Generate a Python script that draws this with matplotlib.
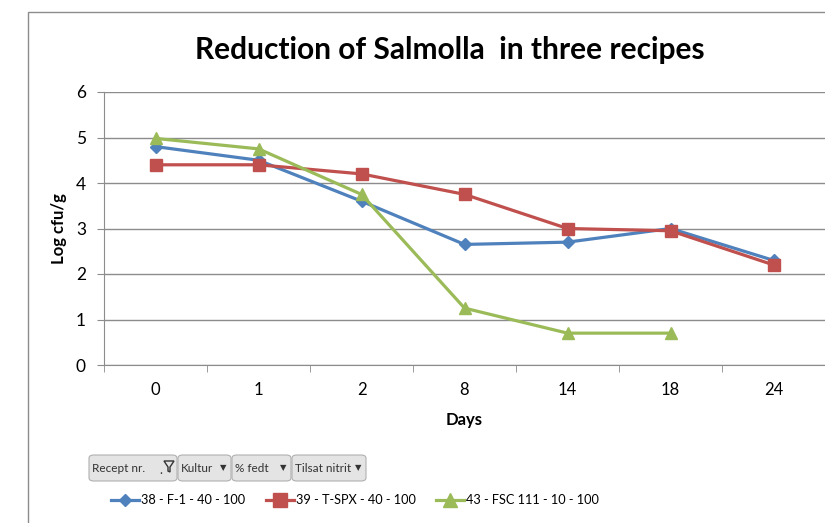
import matplotlib.pyplot as plt
import numpy as np
from matplotlib.patches import FancyBboxPatch, Rectangle, Polygon

plt.rcParams['font.family'] = ['Lato', 'DejaVu Sans']

days = ['0', '1', '2', '8', '14', '18', '24']
f1 = [4.8, 4.5, 3.6, 2.65, 2.7, 3.0, 2.3]
tspx = [4.4, 4.4, 4.2, 3.75, 3.0, 2.95, 2.2]
fsc = [4.98, 4.75, 3.75, 1.25, 0.7, 0.7, np.nan]
names = ['38 - F-1 - 40 - 100', '39 - T-SPX - 40 - 100', '43 - FSC 111 - 10 - 100']
buttons = ['Recept nr.', 'Kultur', '% fedt', 'Tilsat nitrit']

fig = plt.figure(figsize=(8.25, 5.23), dpi=100)
# chart frame
fig.patches.append(Rectangle((28 / 825, -0.01), 1.0, 1 - 12 / 523 + 0.01, transform=fig.transFigure,
                             fill=False, edgecolor='#8c8c8c', linewidth=1))

ax = fig.add_axes([104 / 825, 1 - 365 / 523, 1 - 104 / 825, (365 - 92) / 523])
x = np.arange(len(days))
ax.plot(x, f1, color='#4F81BD', lw=2.3, marker='D', ms=6, label=names[0])
ax.plot(x, tspx, color='#C0504D', lw=2.3, marker='s', ms=9, label=names[1])
ax.plot(x, fsc, color='#9BBB59', lw=2.3, marker='^', ms=9, label=names[2])

ax.set_xlim(-0.5, len(days) - 0.5)
ax.set_ylim(0, 6)
ax.set_yticks(range(7))
ax.set_xticks(x)
ax.set_xticklabels(days)
ax.set_xticks(np.arange(-0.5, len(days)), minor=True)
ax.tick_params(axis='x', which='major', length=0, pad=12, labelsize=12)
ax.tick_params(axis='x', which='minor', length=5, color='#8c8c8c')
ax.tick_params(axis='y', length=5, color='#8c8c8c', labelsize=12.5, pad=8)
ax.grid(axis='y', color='#8c8c8c', lw=1)
ax.set_axisbelow(True)
for s in ['top', 'right']:
    ax.spines[s].set_visible(False)
for s in ['left', 'bottom']:
    ax.spines[s].set_color('#8c8c8c')
ax.set_xlabel('Days', fontweight='bold', fontsize=12, labelpad=10)
ax.set_ylabel('Log cfu/g', fontweight='bold', fontsize=12, labelpad=6)
fig.text(450 / 825, 1 - 50 / 523, 'Reduction of Salmolla  in three recipes', ha='center', va='center',
         fontsize=21.5, fontweight='bold')

# pivot field buttons
edges = [89, 178, 232, 292, 367]
for i, b in enumerate(buttons):
    x0 = edges[i] / 825
    w = (edges[i + 1] - edges[i] - 1) / 825
    fig.patches.append(FancyBboxPatch((x0, 1 - 481 / 523), w, 26 / 523, transform=fig.transFigure,
                                      boxstyle='round,pad=0,rounding_size=0.006', facecolor='#e4e4e4',
                                      edgecolor='#b0b0b0', lw=0.8))
    fig.text(x0 + 3 / 825, 1 - 468 / 523, b, ha='left', va='center', fontsize=8.5, color='#333333')
    if i == 0:
        # little filter funnel
        fx, fy = edges[i + 1] - 14, 461
        pts = [(fx, fy), (fx + 10, fy), (fx + 6, fy + 6), (fx + 6, fy + 11), (fx + 4, fy + 10), (fx + 4, fy + 6)]
        fig.patches.append(Polygon([(px / 825, 1 - py / 523) for px, py in pts], closed=True,
                                   transform=fig.transFigure, facecolor='none', edgecolor='#333333', lw=1))
        fig.text((fx - 3) / 825, 1 - 470 / 523, '.', ha='center', va='center', fontsize=9, color='#333333')
    else:
        fig.text(x0 + w - 5 / 825, 1 - 468 / 523, '\u25BC', ha='right', va='center', fontsize=6,
                 color='#333333', family='DejaVu Sans')

fig.legend(loc='center left', bbox_to_anchor=(111 / 825, 1 - 500 / 523), ncol=3, frameon=False,
           fontsize=9.2, handlelength=2.2, handletextpad=0.15, columnspacing=1.6, borderaxespad=0,
           borderpad=0, markerscale=1.1)

fig.savefig('out.png', dpi=100)
